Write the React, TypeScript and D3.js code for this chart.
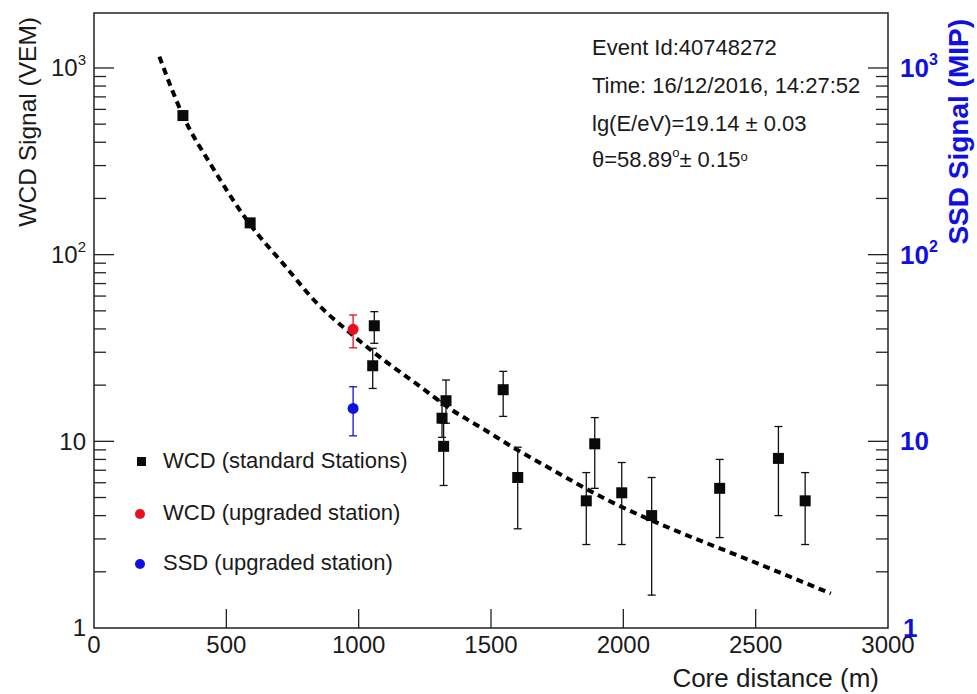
import React from 'react';
import * as d3 from 'd3';

const W = 977;
const H = 694;
const FONT = '"Liberation Sans", Arial, Helvetica, sans-serif';
const SSD_BLUE = '#1010e0';

// WCD, standard stations: core distance (m), signal (VEM), error band
const stdDistance = [336, 590, 1059, 1053, 1330, 1315, 1321, 1546, 1601, 1860, 1892, 1994, 2107, 2364, 2586, 2687];
const stdSignal = [556, 148, 41.6, 25.4, 16.5, 13.3, 9.4, 18.9, 6.4, 4.8, 9.7, 5.3, 4.0, 5.6, 8.1, 4.8];
const stdErrUp = [580, 154, 49.5, 31.5, 21.3, 16.5, 12.5, 23.7, 9.3, 6.8, 13.4, 7.7, 6.4, 8.0, 12.0, 6.8];
const stdErrLow = [533, 142, 33.5, 19.2, 12.5, 10.5, 5.8, 13.6, 3.4, 2.8, 5.6, 2.8, 1.5, 3.05, 4.0, 2.8];

// upgraded station (WCD in VEM, SSD in MIP)
const upgDistance = [979];
const upgWcdSignal = [39.8];
const upgWcdUp = [47.5];
const upgWcdLow = [31.7];
const upgSsdSignal = [15.0];
const upgSsdUp = [19.6];
const upgSsdLow = [10.7];

// lateral distribution fit
const ldfDistance = [247, 336, 450, 590, 716, 842, 969, 1094, 1221, 1347, 1473, 1599, 1712, 1940, 2192, 2444, 2784];
const ldfSignal = [1150, 556, 290, 145, 89, 55, 37.9, 27.3, 20.2, 14.9, 11.6, 9.0, 7.3, 4.85, 3.35, 2.41, 1.53];

const xTicks = [0, 500, 1000, 1500, 2000, 2500, 3000];
const yDecades = [1, 10, 100, 1000];
const yDecadeExp = ['', '', '2', '3'];

const legendLabels = ['WCD (standard Stations)', 'WCD (upgraded station)', 'SSD (upgraded station)'];

const eventId = '40748272';
const eventTime = '16/12/2016, 14:27:52';
const energy = '19.14';
const energyErr = '0.03';
const zenith = '58.89';
const zenithErr = '0.15';

const x = d3.scaleLinear().domain([0, 3000]).range([94, 888]);
const y = d3.scaleLog().domain([1, 1970]).range([628, 13]);

const minorTicks: number[] = [];
yDecades.forEach((d) => {
  for (let k = 2; k <= 9; k++) {
    if (k * d < 1970) minorTicks.push(k * d);
  }
});

const ErrBar = ({ cx, lo, hi, color }: { cx: number; lo: number; hi: number; color: string }) => (
  <g stroke={color} strokeWidth={1.3}>
    <line x1={cx} x2={cx} y1={y(lo)} y2={y(hi)} />
    <line x1={cx - 4} x2={cx + 4} y1={y(lo)} y2={y(lo)} />
    <line x1={cx - 4} x2={cx + 4} y1={y(hi)} y2={y(hi)} />
  </g>
);

export default function App() {
  const ldfLine = d3
    .line<number>()
    .x((d, i) => x(ldfDistance[i]))
    .y((d) => y(d))
    .curve(d3.curveMonotoneX);

  const left = x.range()[0];
  const right = x.range()[1];
  const bottom = y.range()[0];
  const top = y.range()[1];

  return (
    <svg
      width={W}
      height={H}
      style={{ position: 'absolute', left: 0, top: 0, background: '#fff' }}
      fontFamily={FONT}
    >
      <rect x={0} y={0} width={W} height={H} fill="#fff" />

      {/* frame */}
      <rect x={left} y={top} width={right - left} height={bottom - top} fill="none" stroke="#222" strokeWidth={1.5} />

      {/* x axis */}
      {xTicks.map((t) => (
        <g key={'xt' + t}>
          {t > 0 && t < 3000 && <line x1={x(t)} x2={x(t)} y1={bottom} y2={bottom - 19} stroke="#222" strokeWidth={1.3} />}
          <text x={x(t)} y={653} fontSize={24} textAnchor="middle" fill="#1a1a1a">
            {t}
          </text>
        </g>
      ))}
      <text x={879} y={687} fontSize={26} textAnchor="end" fill="#1a1a1a">
        Core distance (m)
      </text>

      {/* left and right log axes */}
      {yDecades.map((d, i) => (
        <g key={'yd' + d}>
          {d > 1 && (
            <>
              <line x1={left} x2={left + 20} y1={y(d)} y2={y(d)} stroke="#222" strokeWidth={1.3} />
              <line x1={right} x2={right - 20} y1={y(d)} y2={y(d)} stroke="#222" strokeWidth={1.3} />
            </>
          )}
          <text x={86} y={y(d)} dy="0.35em" fontSize={24} textAnchor="end" fill="#1a1a1a">
            {i < 2 ? String(d) : '10'}
            {yDecadeExp[i] && (
              <tspan fontSize={15} dy="-0.75em">
                {yDecadeExp[i]}
              </tspan>
            )}
          </text>
          <text x={i === 0 ? 903 : 900} y={y(d)} dy="0.35em" fontSize={26} fontWeight="bold" fill={SSD_BLUE}>
            {i < 2 ? String(d) : '10'}
            {yDecadeExp[i] && (
              <tspan fontSize={16} dy="-0.75em">
                {yDecadeExp[i]}
              </tspan>
            )}
          </text>
        </g>
      ))}
      {minorTicks.map((t) => (
        <g key={'ym' + t} stroke="#222" strokeWidth={1.3}>
          <line x1={left} x2={left + 12} y1={y(t)} y2={y(t)} />
          <line x1={right} x2={right - 12} y1={y(t)} y2={y(t)} />
        </g>
      ))}
      <text transform="translate(36,17) rotate(-90)" fontSize={24.5} textAnchor="end" fill="#1a1a1a">
        WCD Signal (VEM)
      </text>
      <text transform="translate(968,19) rotate(-90)" fontSize={28} fontWeight="bold" textAnchor="end" fill={SSD_BLUE}>
        SSD Signal (MIP)
      </text>

      {/* LDF */}
      <path d={ldfLine(ldfSignal) || ''} fill="none" stroke="#000" strokeWidth={4} strokeDasharray="7,5" />

      {/* WCD standard stations */}
      {stdDistance.map((r, i) => (
        <g key={'s' + i}>
          <ErrBar cx={x(r)} lo={stdErrLow[i]} hi={stdErrUp[i]} color="#111" />
          <rect x={x(r) - 5.5} y={y(stdSignal[i]) - 5.5} width={11} height={11} fill="#0a0a0a" />
        </g>
      ))}

      {/* upgraded station */}
      {upgDistance.map((r, i) => (
        <g key={'u' + i}>
          <ErrBar cx={x(r)} lo={upgWcdLow[i]} hi={upgWcdUp[i]} color="#e0101c" />
          <circle cx={x(r)} cy={y(upgWcdSignal[i])} r={5.5} fill="#e8101c" />
          <ErrBar cx={x(r)} lo={upgSsdLow[i]} hi={upgSsdUp[i]} color={SSD_BLUE} />
          <circle cx={x(r)} cy={y(upgSsdSignal[i])} r={5.5} fill={SSD_BLUE} />
        </g>
      ))}

      {/* event info */}
      <g fontSize={22} fill="#1a1a1a">
        <text x={592} y={55}>Event Id:{eventId}</text>
        <text x={592} y={93}>Time: {eventTime}</text>
        <text x={592} y={131}>
          lg(E/eV)={energy} ± {energyErr}
        </text>
        <text x={592} y={167}>
          θ={zenith}
          <tspan fontSize={13} dy="-0.8em">o</tspan>
          <tspan dy="0.47em">± {zenithErr}</tspan>
          <tspan fontSize={13} dy="-0.47em">o</tspan>
        </text>
      </g>

      {/* legend */}
      <g fontSize={22} fill="#1a1a1a">
        <rect x={137} y={457} width={9} height={9} fill="#0a0a0a" />
        <text x={163} y={468}>{legendLabels[0]}</text>
        <circle cx={140} cy={514} r={5} fill="#e8101c" />
        <text x={163} y={520}>{legendLabels[1]}</text>
        <circle cx={140} cy={564} r={5} fill={SSD_BLUE} />
        <text x={163} y={570}>{legendLabels[2]}</text>
      </g>
    </svg>
  );
}
